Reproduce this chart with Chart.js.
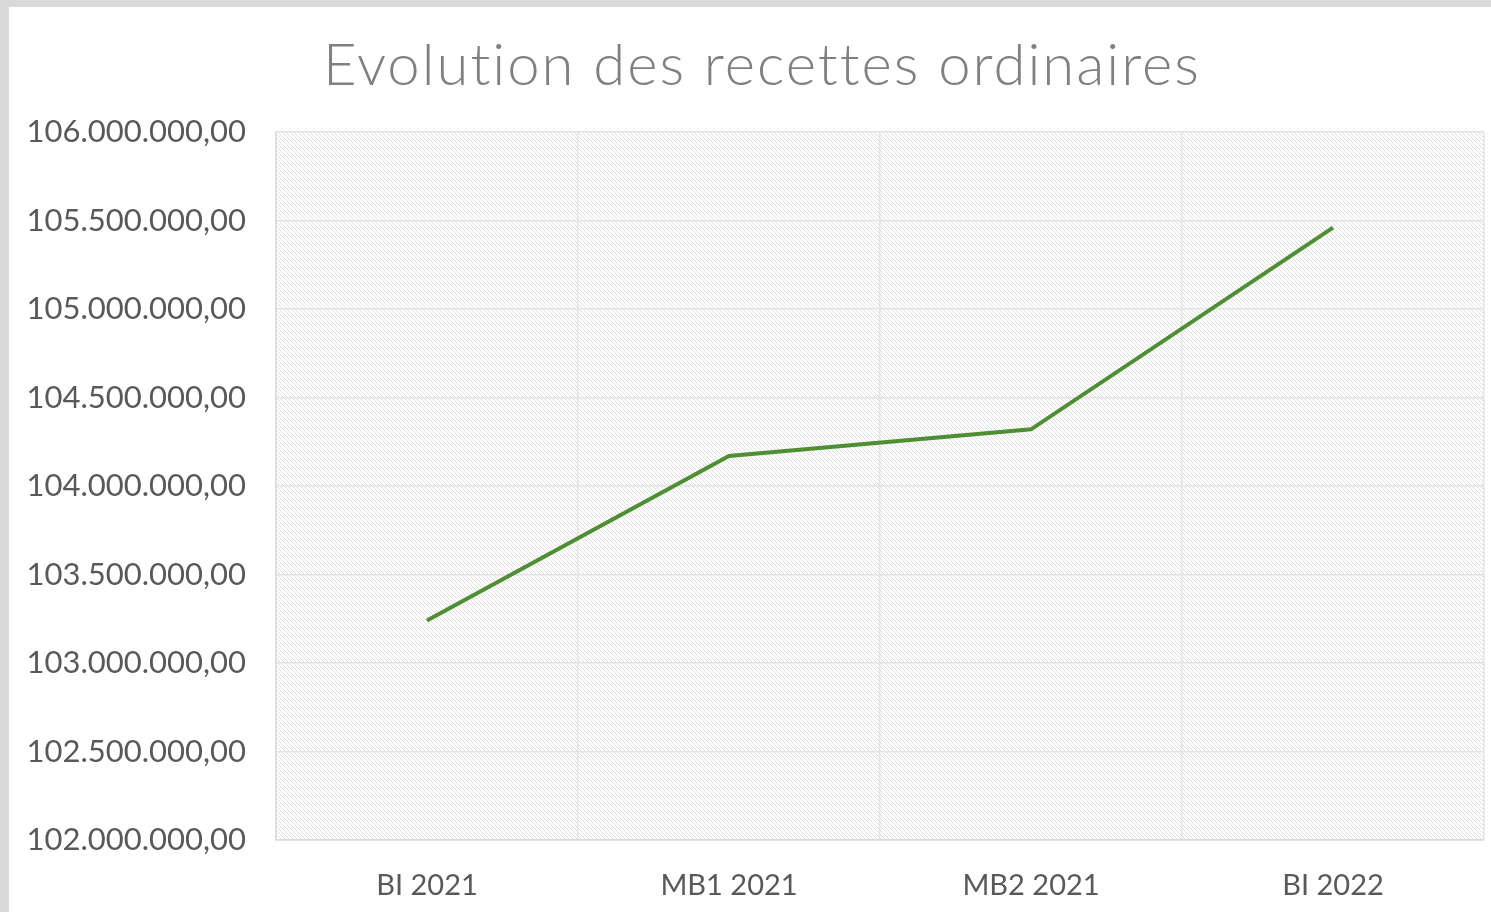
<!DOCTYPE html>
<html>
<head>
<meta charset="utf-8">
<script src="https://cdn.jsdelivr.net/npm/chart.js@4"></script>
<style>
  html, body { margin: 0; padding: 0; background: #d9d9d9; overflow: hidden; }
  #wrap { position: absolute; left: 9px; top: 7px; width: 1482px; height: 905px; background: #fff; }
</style>
</head>
<body>
<div id="wrap"><canvas id="recettesChart" width="1482" height="905"></canvas></div>
<script>
const titleText = "Evolution des recettes ordinaires";
const categories = ["BI 2021", "MB1 2021", "MB2 2021", "BI 2022"];
const recettes = [103240000, 104170000, 104320000, 105460000];
const yMin = 102000000;
const yMax = 106000000;
const yStep = 500000;

// 106000000 -> "106.000.000,00"
function formatEuro(v) {
    let s = Math.round(v).toString();
    s = s.replace(/\B(?=(\d{3})+(?!\d))/g, ".");
    return s + ",00";
}

// light diagonal hatch like the Excel plot area
function makeHatch() {
    const c = document.createElement("canvas");
    c.width = 4; c.height = 4;
    const g = c.getContext("2d");
    g.fillStyle = "#dedede";
    for (let i = 0; i < 4; i++) {
        g.fillRect(i, i, 1, 1);
    }
    return g.createPattern(c, "repeat");
}

const hatchPlugin = {
    id: "hatch",
    beforeDraw(chart) {
        const a = chart.chartArea;
        const ctx = chart.ctx;
        ctx.save();
        ctx.fillStyle = makeHatch();
        ctx.fillRect(a.left, a.top, a.right - a.left, a.bottom - a.top);
        ctx.restore();
    }
};

// title drawn by hand so it can get some letter spacing (Century Gothic is wide)
const titlePlugin = {
    id: "wideTitle",
    afterDraw(chart) {
        const ctx = chart.ctx;
        ctx.save();
        ctx.letterSpacing = "2px";
        ctx.font = "300 58px Lato";
        ctx.fillStyle = "#808080";
        ctx.textAlign = "center";
        ctx.textBaseline = "alphabetic";
        ctx.fillText(titleText, 753, 78);
        ctx.restore();
    }
};

new Chart("recettesChart", {
    type: "line",
    data: {
        labels: categories,
        datasets: [{
            data: recettes,
            borderColor: "#4f8f33",
            borderWidth: 4,
            pointRadius: 0,
            tension: 0,
            fill: false
        }]
    },
    options: {
        responsive: false,
        animation: false,
        layout: { padding: { left: 0, right: 7, top: 125, bottom: 0 } },
        plugins: {
            legend: { display: false },
            tooltip: { enabled: false },
            title: { display: false }
        },
        scales: {
            x: {
                offset: true,
                grid: { offset: true, color: "#e3e3e3", lineWidth: 1.5, drawTicks: false },
                border: { color: "#d9d9d9", width: 1.5 },
                ticks: {
                    color: "#595959",
                    font: { family: "Lato", size: 29 },
                    padding: 28
                },
                afterFit(s) { s.height = 72; }
            },
            y: {
                min: yMin,
                max: yMax,
                grid: { color: "#e3e3e3", lineWidth: 1.5, drawTicks: false },
                border: { color: "#d9d9d9", width: 1.5 },
                ticks: {
                    stepSize: yStep,
                    color: "#595959",
                    font: { family: "Lato", size: 31 },
                    padding: 30,
                    callback: v => formatEuro(v)
                },
                afterFit(s) { s.width = 267; }
            }
        }
    },
    plugins: [hatchPlugin, titlePlugin]
});
</script>
</body>
</html>
